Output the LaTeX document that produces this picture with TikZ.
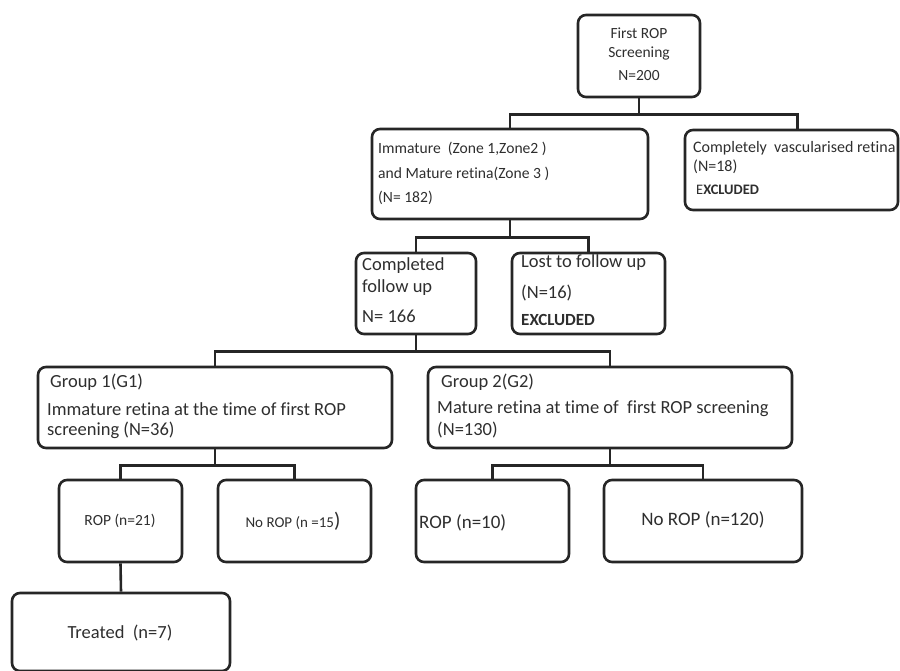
\documentclass[tikz,border=0pt]{standalone}
\usepackage{fontspec}
\setmainfont{Carlito}[Ligatures={NoCommon}]
\begin{document}
\begin{tikzpicture}[x=1pt,y=-1pt,
  box/.style={draw=black!85, line width=2.6pt, rounded corners=8pt, rectangle, inner sep=0pt},
  conn/.style={draw=black!85, line width=2.6pt},
  txt/.style={inner sep=0pt, anchor=west, text=black!82},
  ctxt/.style={inner sep=0pt, anchor=center, text=black!82}]
\useasboundingbox (0,0) rectangle (900,671);
% boxes
\node[box, minimum width=122pt, minimum height=82pt] (A) at (639,56) {};
\node[box, minimum width=276pt, minimum height=90pt] (B) at (510,174) {};
\node[box, minimum width=213pt, minimum height=80pt] (C) at (791.5,170) {};
\node[box, minimum width=120pt, minimum height=81pt] (D) at (416,293.5) {};
\node[box, minimum width=153pt, minimum height=81pt] (E) at (588.5,293.5) {};
\node[box, minimum width=354pt, minimum height=81pt] (F) at (215,407.5) {};
\node[box, minimum width=364pt, minimum height=81pt] (G) at (610,407.5) {};
\node[box, minimum width=123pt, minimum height=82pt] (H) at (120.5,521) {};
\node[box, minimum width=153pt, minimum height=82pt] (I) at (294.5,521) {};
\node[box, minimum width=153pt, minimum height=82pt] (K) at (492.5,521) {};
\node[box, minimum width=198pt, minimum height=82pt] (L) at (703,521) {};
\node[box, minimum width=218pt, minimum height=78pt] (J) at (121,632) {};
% texts
\node[ctxt, font=\fontsize{15.5}{18}\selectfont] (a1) at (639,33) {First ROP};
\node[ctxt, font=\fontsize{15.5}{18}\selectfont] (a2) at (639,54) {Screening};
\node[ctxt, font=\fontsize{15.5}{18}\selectfont] (a3) at (639,76) {N=200};
\node[txt, font=\fontsize{15.6}{18}\selectfont] (b1) at (378,149) {Immature\ \ (Zone 1,Zone2 )};
\node[txt, font=\fontsize{15.6}{18}\selectfont] (b2) at (378,174) {and Mature retina(Zone 3 )};
\node[txt, font=\fontsize{15.6}{18}\selectfont] (b3) at (378,198) {(N= 182)};
\node[txt, font=\fontsize{16}{18}\selectfont] (c1) at (693,148) {Completely\ \ vascularised retina};
\node[txt, font=\fontsize{16}{18}\selectfont] (c2) at (693,167) {(N=18)};
\node[txt, font=\fontsize{14.5}{18}\selectfont] (c3) at (696,190) {E\textbf{XCLUDED}};
\node[txt, font=\fontsize{18.5}{20}\selectfont] (d1) at (362,266) {Completed};
\node[txt, font=\fontsize{18.5}{20}\selectfont] (d2) at (362,288) {follow up};
\node[txt, font=\fontsize{18.5}{20}\selectfont] (d3) at (362,316) {N= 166};
\node[txt, font=\fontsize{18.5}{20}\selectfont] (e1) at (521,263) {Lost to follow up};
\node[txt, font=\fontsize{18.5}{20}\selectfont] (e2) at (521,293) {(N=16)};
\node[txt, font=\fontsize{17}{20}\bfseries\selectfont] (e3) at (521,320) {EXCLUDED};
\node[txt, font=\fontsize{18.5}{20}\selectfont] (f1) at (50,382) {Group 1(G1)};
\node[txt, font=\fontsize{18.5}{20}\selectfont] (f2) at (47,409) {Immature retina at the time of first ROP};
\node[txt, font=\fontsize{18.5}{20}\selectfont] (f3) at (47,430) {screening (N=36)};
\node[txt, font=\fontsize{18.5}{20}\selectfont] (g1) at (441,382) {Group 2(G2)};
\node[txt, font=\fontsize{18.5}{20}\selectfont] (g2) at (437,409) {Mature retina at time of\ \ first ROP screening};
\node[txt, font=\fontsize{18.5}{20}\selectfont] (g3) at (437,430) {(N=130)};
\node[ctxt, font=\fontsize{15.5}{18}\selectfont] (h1) at (120,521) {ROP (n=21)};
\node[ctxt, font=\fontsize{15}{18}\selectfont] (i1) at (293,521) {No ROP (n =15\fontsize{21}{22}\selectfont)};
\node[txt, font=\fontsize{19}{20}\selectfont] (k1) at (419,523) {ROP (n=10)};
\node[ctxt, font=\fontsize{19}{20}\selectfont] (l1) at (703,520) {No ROP (n=120)};
\node[ctxt, font=\fontsize{18.5}{20}\selectfont] (j1) at (120,633) {Treated\ \ (n=7)};
% connectors
\draw[conn] (A.south) -- ++(0,16) coordinate (jA);
\draw[conn] (jA) -| (B.north);
\draw[conn] (jA) -| ([xshift=6pt]C.north);
\draw[conn] (B.south) -- ++(0,17) coordinate (jB);
\draw[conn] (jB) -| (D.north);
\draw[conn] (jB) -| (E.north);
\draw[conn] (D.south) -- ++(0,16) coordinate (jD);
\draw[conn] (jD) -| (F.north);
\draw[conn] (jD) -| (G.north);
\draw[conn] (F.south) -- ++(0,16) coordinate (jF);
\draw[conn] (jF) -| (H.north);
\draw[conn] (jF) -| (I.north);
\draw[conn] (G.south) -- ++(0,16) coordinate (jG);
\draw[conn] (jG) -| (K.north);
\draw[conn] (jG) -| (L.north);
\draw[conn] (H.south) -- (J.north);
\end{tikzpicture}
\end{document}
